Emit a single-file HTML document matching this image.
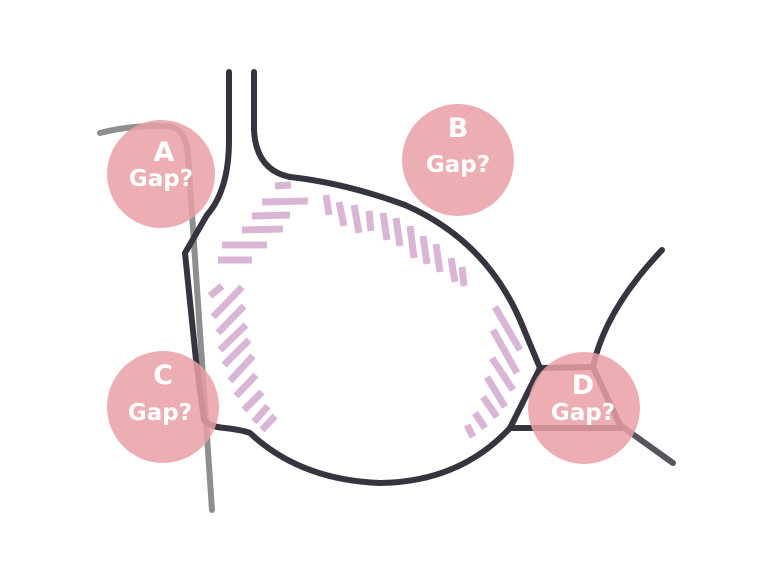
<!DOCTYPE html>
<html><head><style>
html,body{margin:0;padding:0;background:#fff;}
svg{display:block;}
text{font-family:"DejaVu Sans","Liberation Sans",sans-serif;font-weight:bold;fill:#fff;text-anchor:middle;}
</style></head><body>
<svg width="780" height="580" viewBox="0 0 780 580" xmlns="http://www.w3.org/2000/svg">
<g stroke="#d9b6d5" stroke-width="7" stroke-linecap="butt" fill="none">
  <line x1="275" y1="186" x2="291" y2="185"/>
  <line x1="262" y1="202" x2="308" y2="201"/>
  <line x1="252" y1="216" x2="290" y2="215"/>
  <line x1="242" y1="230" x2="283" y2="229"/>
  <line x1="222" y1="245" x2="267" y2="245"/>
  <line x1="218" y1="260" x2="252" y2="260"/>
  <line x1="326" y1="195" x2="329" y2="215"/>
  <line x1="339" y1="202" x2="344" y2="226"/>
  <line x1="354" y1="205" x2="359" y2="233"/>
  <line x1="369" y1="211" x2="371" y2="231"/>
  <line x1="383" y1="213" x2="387" y2="240"/>
  <line x1="396" y1="218" x2="400" y2="246"/>
  <line x1="410" y1="226" x2="414" y2="258"/>
  <line x1="423" y1="236" x2="427" y2="264"/>
  <line x1="436" y1="244" x2="440" y2="272"/>
  <line x1="451" y1="258" x2="455" y2="282"/>
  <line x1="462" y1="267" x2="464" y2="286"/>
  <line x1="210" y1="296" x2="222" y2="286"/>
  <line x1="213" y1="317" x2="242" y2="287"/>
  <line x1="218" y1="333" x2="244" y2="306"/>
  <line x1="220" y1="350" x2="246" y2="325"/>
  <line x1="224" y1="365" x2="249" y2="340"/>
  <line x1="230" y1="381" x2="253" y2="356"/>
  <line x1="236" y1="396" x2="256" y2="375"/>
  <line x1="244" y1="410" x2="262" y2="392"/>
  <line x1="254" y1="422" x2="268" y2="406"/>
  <line x1="262" y1="430" x2="275" y2="416"/>
  <line x1="495" y1="307" x2="520" y2="350"/>
  <line x1="493" y1="330" x2="517" y2="373"/>
  <line x1="492" y1="358" x2="513" y2="390"/>
  <line x1="487" y1="377" x2="505" y2="407"/>
  <line x1="483" y1="397" x2="497" y2="417"/>
  <line x1="475" y1="413" x2="485" y2="428"/>
  <line x1="467" y1="425" x2="473" y2="437"/>
</g>
<path d="M100 133 Q130 125 168 126 Q186 128 188 155 L212 510" stroke="#8e8e8e" stroke-width="6" fill="none" stroke-linecap="round"/>
<path d="M620 425 L673 463" stroke="#55555c" stroke-width="6" fill="none" stroke-linecap="round"/>
<g stroke="#35343f" stroke-width="6" fill="none" stroke-linecap="round" stroke-linejoin="round">
  <path d="M229 72 L229 140 Q229 190 207 215 L185 253 L196 360 L204 420 Q210 427 225 428 Q242 430 250 433 Q300 480 380 483 Q460 482 510 428 L540 368"/>
  <path d="M254 72 L254 130 Q256 170 290 177 Q345 183 405 205 Q485 240 520 320 L540 368 L593 367 Q605 310 662 250"/>
  <path d="M593 367 L605 393 L620 425"/>
  <path d="M510 428 L620 428"/>
</g>
<g fill="#e9a0a5" fill-opacity="0.85">
  <circle cx="161" cy="174" r="54"/>
  <circle cx="458" cy="160" r="56"/>
  <circle cx="163" cy="407" r="56"/>
  <circle cx="584" cy="408" r="56"/>
</g>
<text x="164" y="161" font-size="27">A</text>
<text x="161" y="186" font-size="23">Gap?</text>
<text x="458" y="137" font-size="27">B</text>
<text x="458" y="172" font-size="23">Gap?</text>
<text x="163" y="384" font-size="27">C</text>
<text x="160" y="420" font-size="23">Gap?</text>
<text x="583" y="394" font-size="27">D</text>
<text x="583" y="420" font-size="23">Gap?</text>
</svg>
</body></html>
